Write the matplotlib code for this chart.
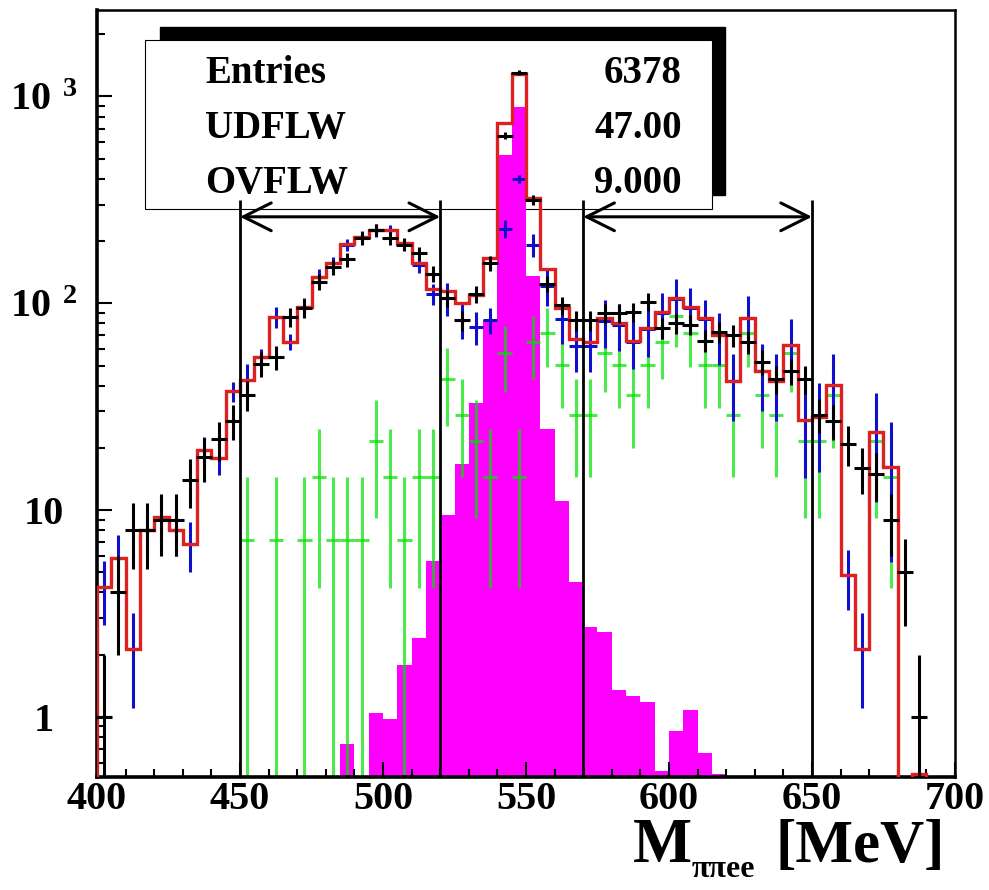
import numpy as np
import matplotlib
matplotlib.use("Agg")
import matplotlib.pyplot as plt
from matplotlib.patches import Rectangle

plt.rcParams["font.family"] = ["Liberation Serif", "DejaVu Serif"]
plt.rcParams["font.weight"] = "bold"
plt.rcParams["mathtext.fontset"] = "custom"
plt.rcParams["mathtext.rm"] = "Liberation Serif:bold"
plt.rcParams["mathtext.bf"] = "Liberation Serif:bold"
plt.rcParams["mathtext.it"] = "Liberation Serif:bold:italic"

# 5 MeV bins, 400 - 700 MeV
bin_edges = np.arange(400, 705, 5)
bin_centers = bin_edges[:-1] + 2.5

# data (black crosses)
data_counts = [1, 4, 8, 8, 9, 9, 14, 18, 22, 27,
               36, 51, 55, 86, 95, 127, 150, 163, 206, 226,
               206, 192, 175, 139, 106, 83, 111, 156, 645, 1300,
               316, 124, 98, 83, 83, 90, 90, 91, 102, 76,
               80, 79, 66, 73, 70, 65, 52, 43, 47, 43,
               29, 27, 21, 16, 15, 9, 5, 1, 0, 0]

# MC total (red outline)
mc_total = [4.25, 5.9, 2.14, 8.0, 9.3, 8.0, 6.9, 19.5, 17.8, 37.5,
            42.6, 55, 86, 65, 96, 134, 156, 193, 210, 226,
            226, 195, 156, 117, 115, 100, 110, 165, 743, 1285,
            322, 146, 95, 67, 65, 85, 80, 66, 76, 91,
            106, 96, 85, 70, 42, 85, 47, 42, 63, 27.3,
            28.3, 40.3, 4.85, 2.14, 23.9, 16.2, 0, 0.53, 0, 0]

# MC background (blue crosses)
mc_bkg = [4.25, 5.9, 2.14, 8.0, 9.3, 8.0, 6.9, 19.5, 17.8, 37.5,
          42.6, 55, 86, 65, 96, 134, 156, 192, 210, 225,
          225, 193, 154, 111, 106, 83, 77, 83, 230, 399,
          192, 121, 84, 62, 62, 82, 79, 65, 75, 90,
          105, 95, 84, 70, 42, 85, 47, 42, 63, 27.3,
          28.3, 40.3, 4.85, 2.14, 23.9, 16.2, 0, 0, 0, 0]

# MC signal (magenta fill)
mc_signal = [0, 0, 0, 0, 0, 0, 0, 0, 0, 0,
             0, 0, 0, 0, 0, 0, 0, 0.74, 0, 1.04,
             0.98, 1.78, 2.4, 5.7, 9.5, 16.8, 32.8, 83, 521, 893,
             135, 24.8, 11.1, 4.5, 2.73, 2.58, 1.35, 1.27, 1.18, 0.55,
             0.86, 1.08, 0.67, 0.53, 0, 0, 0, 0, 0, 0,
             0, 0, 0, 0, 0, 0, 0, 0, 0, 0]

# weighted component (green crosses): raw counts, each entry weight 7.2
green_counts = [0, 0, 0, 0, 0, 0, 0, 0, 0, 0,
                1, 0, 1, 0, 1, 2, 1, 1, 1, 3,
                2, 1, 2, 2, 6, 4, 3, 2, 8, 2,
                9, 10, 7, 4, 4, 8, 7, 5, 7, 9,
                12, 10, 7, 7, 4, 10, 5, 4, 8, 3,
                3, 5, 0, 0, 3, 2, 0, 0, 0, 0]
green_weight = 7.2
bkg_weight = 0.5

cut_windows = [(450, 520), (570, 650)]

data_counts = np.array(data_counts, float)
mc_total = np.array(mc_total, float)
mc_bkg = np.array(mc_bkg, float)
mc_signal = np.array(mc_signal, float)
green_vals = np.array(green_counts, float) * green_weight

# sumw2-style errors
data_err = np.sqrt(data_counts)
green_err = np.sqrt(green_vals * green_weight)
bkg_err = np.sqrt(bkg_weight * mc_bkg + green_err ** 2)

fig = plt.figure(figsize=(9.89, 8.9), dpi=100)
ax = fig.add_axes([0.0981, 0.127, 0.8675, 0.8618])
ax.set_yscale("log")
ax.set_xlim(400, 700)
ax.set_ylim(0.513, 2620)

# stats box with shadow (drawn under the histograms)
ax.add_patch(Rectangle((0.0734, 0.7588), 0.6585, 0.219, transform=ax.transAxes,
                       facecolor="black", edgecolor="black", clip_on=False, zorder=0.2))
ax.add_patch(Rectangle((0.0559, 0.7405), 0.6609, 0.2204, transform=ax.transAxes,
                       facecolor="white", edgecolor="black", linewidth=0.8,
                       clip_on=False, zorder=0.3))
stats = [("Entries", "6378", 0.9048), ("UDFLW", "47.00", 0.8331), ("OVFLW", "9.000", 0.7614)]
for name, val, yy in stats:
    ax.text(0.1259, yy, name, transform=ax.transAxes, fontsize=28, fontweight="bold",
            va="baseline", ha="left", zorder=0.4)
    ax.text(0.6815, yy, val, transform=ax.transAxes, fontsize=28, fontweight="bold",
            va="baseline", ha="right", zorder=0.4)

ax.bar(bin_centers, mc_signal, width=5, color="#ff00ff", linewidth=0, zorder=1)

m = green_vals > 0
ax.errorbar(bin_centers[m], green_vals[m], yerr=green_err[m], xerr=2.5, fmt="none",
            ecolor="#00e000", elinewidth=2.2, alpha=0.7, zorder=2)

m = mc_bkg > 0
ax.errorbar(bin_centers[m], mc_bkg[m], yerr=bkg_err[m], xerr=2.5, fmt="none",
            ecolor="#1010cc", elinewidth=2.2, zorder=3)

ax.stairs(mc_total, bin_edges, color="#dd2020", linewidth=2.4, zorder=4)

m = data_counts > 0
ax.errorbar(bin_centers[m], data_counts[m], yerr=data_err[m], xerr=2.8, fmt="none",
            ecolor="black", elinewidth=2.2, zorder=5)

# side band windows
for lo, hi in cut_windows:
    ax.vlines([lo, hi], 0.1, 316, color="black", linewidth=2, zorder=7)
    ax.annotate("", xy=(lo, 262), xytext=(hi, 262),
                arrowprops=dict(arrowstyle="<->, head_length=2.0, head_width=1.0",
                                mutation_scale=10, color="black", lw=2.2,
                                shrinkA=0, shrinkB=0), zorder=7)

ax.set_xticks(np.arange(400, 701, 50))
ax.set_xticks(np.arange(400, 701, 10), minor=True)
ax.set_xticklabels([str(v) for v in range(400, 701, 50)])
ax.set_yticks([1, 10, 100, 1000])
ax.set_yticklabels(["1", "10", r"$\mathbf{10}^{\;\;\mathbf{2}}$", r"$\mathbf{10}^{\;\;\mathbf{3}}$"])
ax.tick_params(which="both", direction="in", top=False, right=False, width=1.5,
               labelsize=29)
ax.tick_params(which="major", length=11)
ax.tick_params(which="minor", length=6)
ax.tick_params(axis="x", pad=3)
ax.tick_params(axis="y", pad=38)
for lbl in ax.get_yticklabels():
    lbl.set_horizontalalignment("center")
for s in ["left", "bottom"]:
    ax.spines[s].set_linewidth(2.6)
for s in ["top", "right"]:
    ax.spines[s].set_linewidth(1.8)

# axis title M_{pi pi ee} [MeV]
fig.text(633 / 989, 28 / 890, "M", fontsize=45, fontweight="bold", ha="left", va="baseline")
fig.text(692 / 989, 13 / 890, "ππee", fontsize=23, fontweight="bold", ha="left", va="baseline")
fig.text(945 / 989, 28 / 890, "[MeV]", fontsize=44, fontweight="bold", ha="right", va="baseline")

fig.savefig("out.png", dpi=100)
